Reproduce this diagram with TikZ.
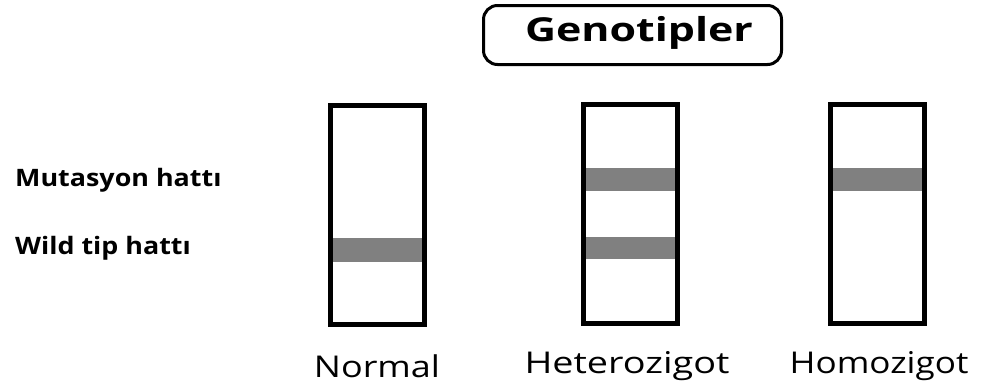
\documentclass[tikz,border=0pt]{standalone}
\usepackage{fontspec}
\setmainfont{Open Sans}
\newcommand{\xs}[2]{\scalebox{#1}[1]{#2}}
\begin{document}
\begin{tikzpicture}[x=1pt,y=-1pt,
  lane/.style={draw=black,line width=5pt,minimum width=94pt,minimum height=219pt,inner sep=0pt},
  titlebox/.style={draw=black,line width=3pt,rounded corners=14pt,minimum width=298pt,minimum height=59pt,inner sep=0pt},
  lbl/.style={font=\fontsize{24}{28}\selectfont\bfseries,anchor=west,inner sep=0pt},
  glbl/.style={font=\fontsize{30}{34}\selectfont,inner sep=0pt}]
\useasboundingbox (0,0) rectangle (982,389);
% title
\node[titlebox] (tb) at (632.5,35) {};
\node[font=\fontsize{33}{36}\selectfont\bfseries,inner sep=0pt] (title) at (639,33) {\xs{1.3}{Genotipler}};
% bands
\fill[black!50] (333,238) rectangle (422,262);
\fill[black!50] (586,168) rectangle (675,191);
\fill[black!50] (586,237) rectangle (675,259);
\fill[black!50] (833,168) rectangle (922,191);
% lanes
\node[lane] (l1) at (377.5,215) {};
\node[lane] (l2) at (630.5,214) {};
\node[lane] (l3) at (877.5,214) {};
% left labels
\node[lbl] (mut) at (15,180) {\xs{1.12}{Mutasyon hattı}};
\node[lbl] (wild) at (15,248) {\xs{1.12}{Wild tip hattı}};
% bottom labels
\node[glbl] (n1) at (377,366) {\xs{1.2}{Normal}};
\node[glbl] (n2) at (627,366) {\xs{1.26}{Heterozigot}};
\node[glbl] (n3) at (879,366) {\xs{1.17}{Homozigot}};
\end{tikzpicture}
\end{document}
